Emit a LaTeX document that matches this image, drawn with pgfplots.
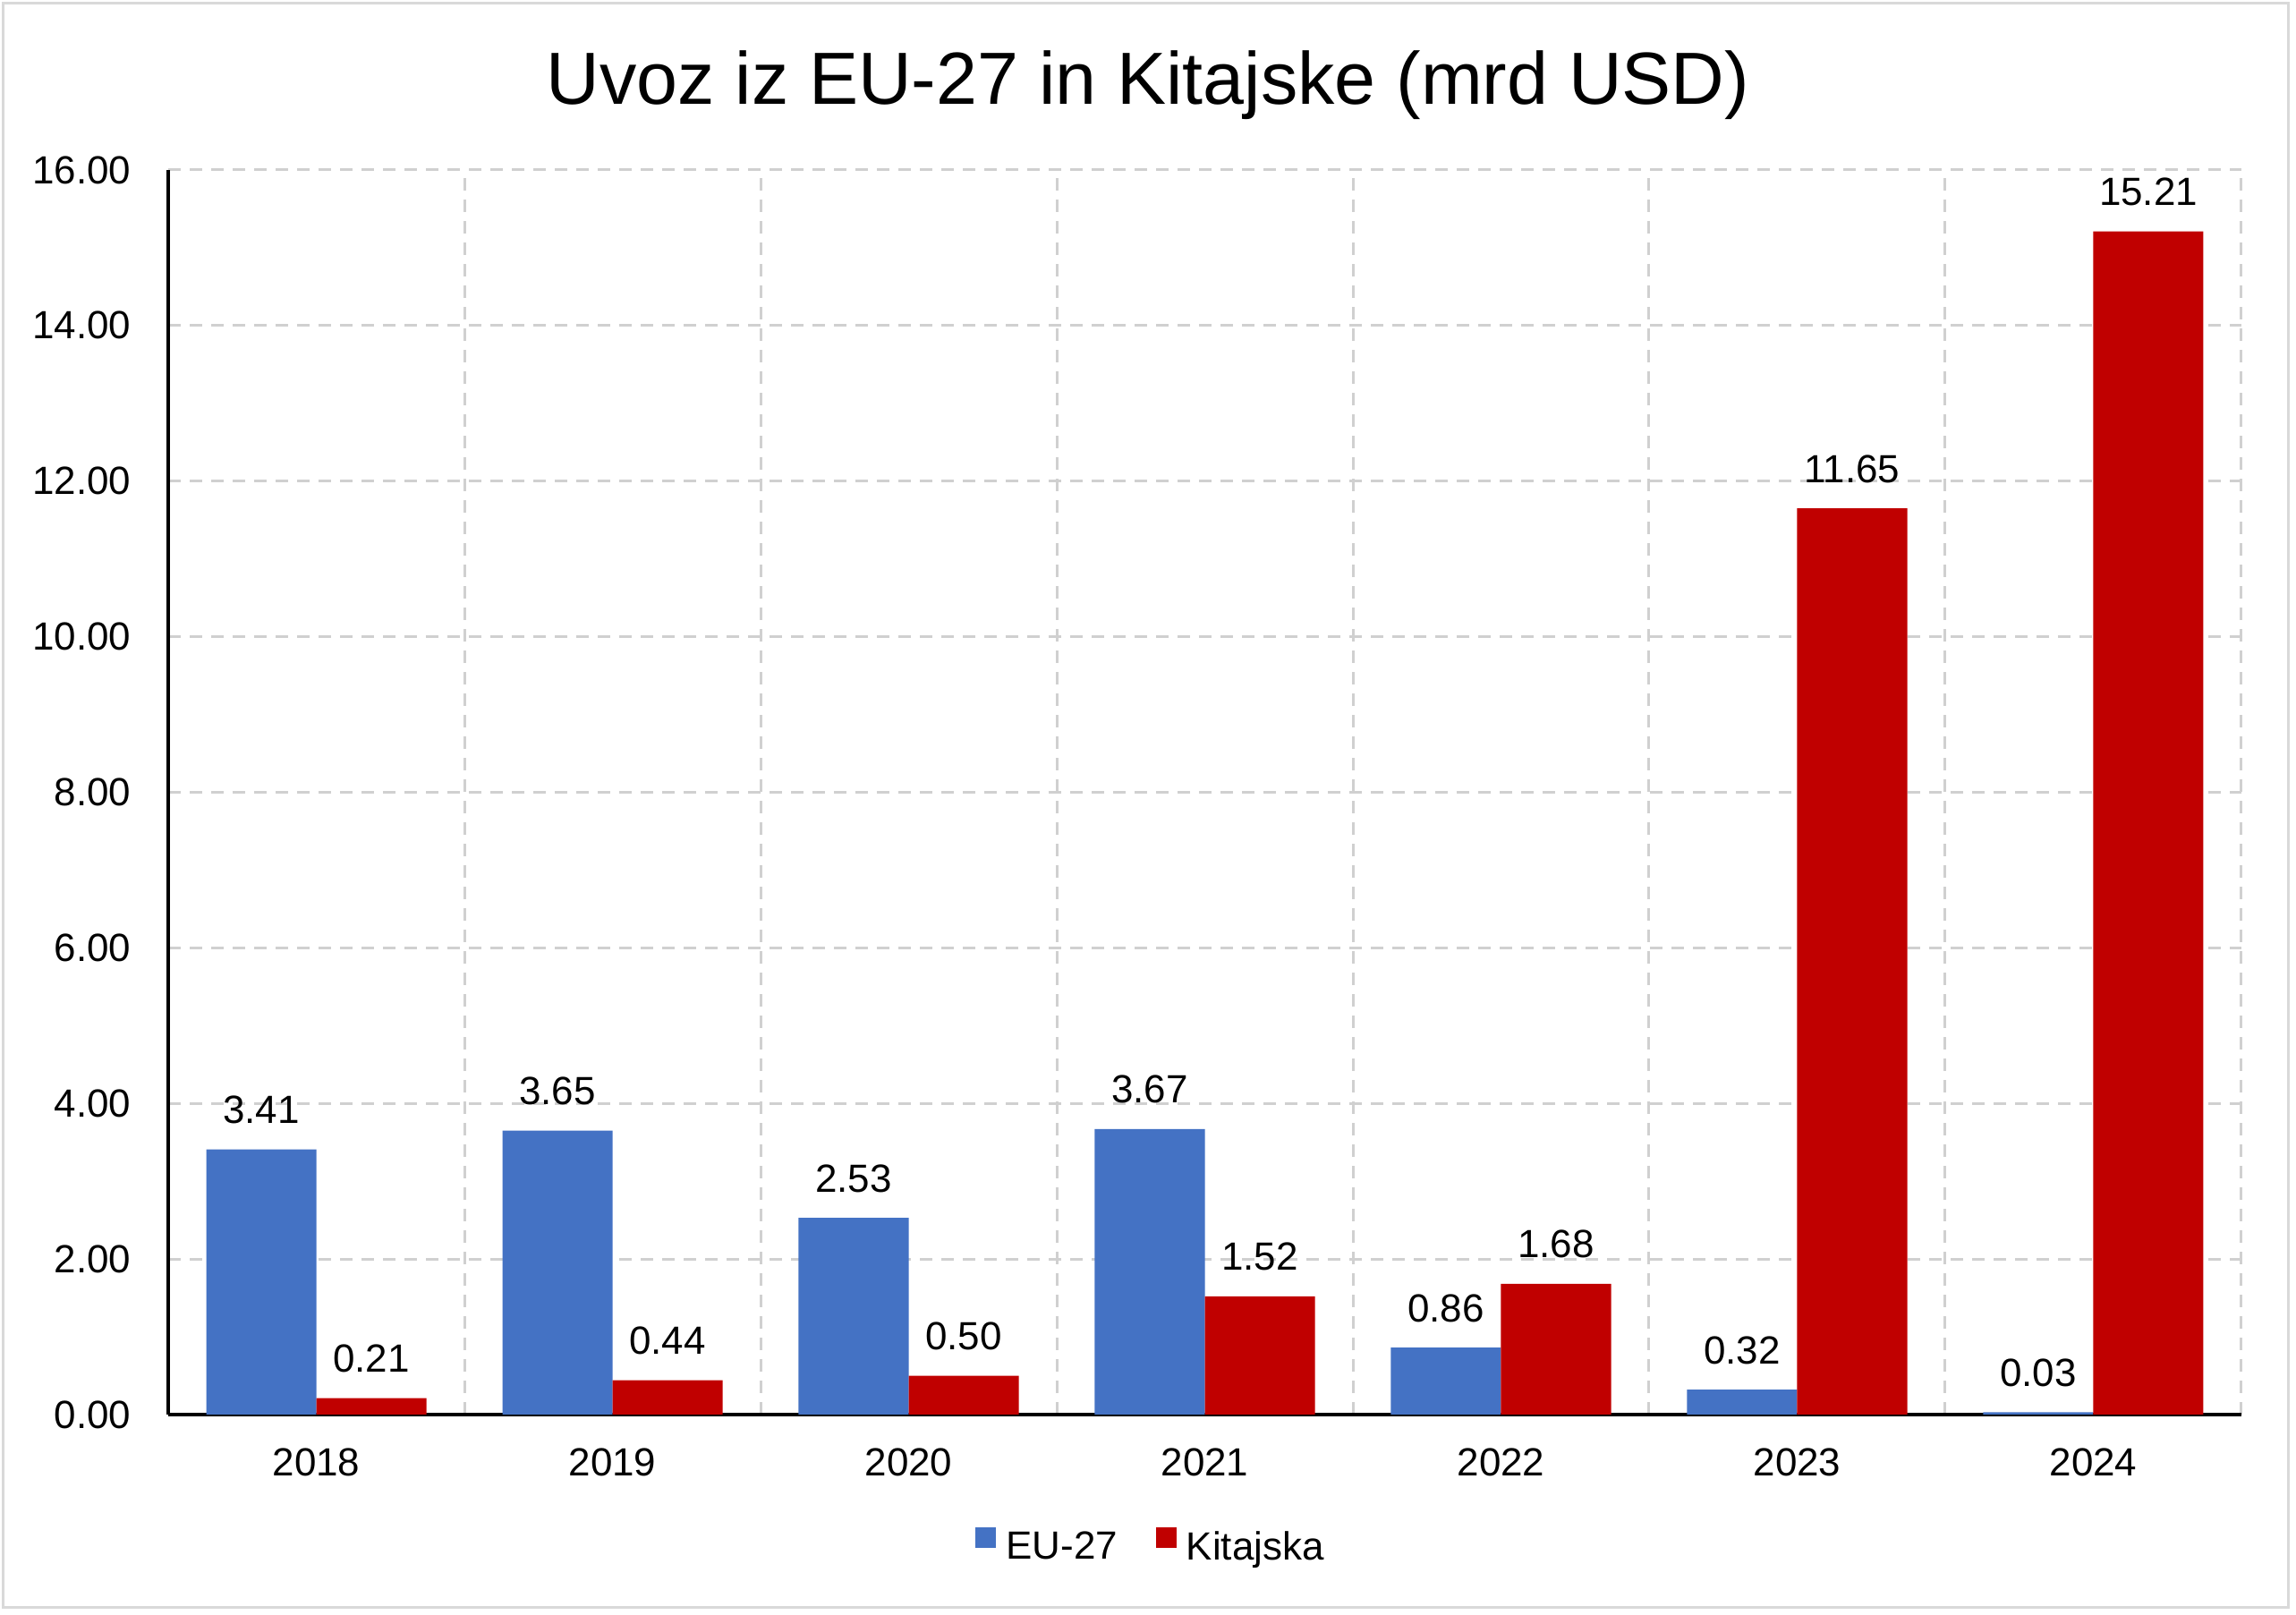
\documentclass[border=0pt]{standalone}
\usepackage{pgfplots}
\pgfplotsset{compat=1.18}
\usepackage{fontspec}
\setmainfont{Liberation Sans}
\definecolor{eublue}{HTML}{4472C4}
\definecolor{cnred}{HTML}{C00000}
\definecolor{gridgray}{HTML}{D0D0D0}
\definecolor{framegray}{HTML}{D9D9D9}
\begin{document}
\begin{tikzpicture}
\useasboundingbox (0,0) rectangle (25.66cm,18.05cm);
\draw[framegray, line width=0.03cm] (0.04cm,0.08cm) rectangle (25.57cm,18.01cm);
\node[anchor=base, inner sep=0pt, font=\fontsize{23.5}{28}\selectfont] at (12.83cm,16.88cm) {Uvoz iz EU-27 in Kitajske (mrd USD)};
\begin{axis}[
  at={(1.88cm,2.24cm)}, anchor=south west,
  scale only axis, width=23.17cm, height=13.91cm,
  ybar=0pt, bar width=1.23cm,
  xmin=-0.5, xmax=6.5, ymin=0, ymax=16,
  xtick={0,1,2,3,4,5,6},
  xticklabels={2018,2019,2020,2021,2022,2023,2024},
  minor xtick={0.5,1.5,2.5,3.5,4.5,5.5,6.5},
  ytick={0,2,4,6,8,10,12,14,16},
  major tick length=0pt, minor tick length=0pt,
  xminorgrids=true, ymajorgrids=true,
  grid style={gridgray, line width=0.03cm, dash pattern=on 0.14cm off 0.10cm},
  minor grid style={gridgray, line width=0.03cm, dash pattern=on 0.14cm off 0.10cm},
  axis x line*=bottom, axis y line*=left,
  axis line style={black, line width=0.045cm, -},
  /pgf/number format/.cd, fixed, fixed zerofill, precision=2, assume math mode=true,
  /pgfplots/.cd,
  tick label style={font=\fontsize{12.5}{15}\selectfont, black},
  yticklabel style={anchor=east, inner sep=0pt, xshift=-0.41cm},
  xticklabel style={anchor=base, inner sep=0pt, yshift=-0.69cm},
  nodes near coords,
  every node near coord/.append style={font=\fontsize{12.5}{15}\selectfont, black, anchor=base, inner sep=0pt, yshift=0.29cm},
  legend style={at={(0.4748,-0.107)}, anchor=center, draw=none, fill=none,
    legend columns=-1, font=\fontsize{12.5}{15}\selectfont,
    /tikz/every odd column/.append style={column sep=0.05cm},
    /tikz/every even column/.append style={column sep=0.37cm},
    nodes={inner sep=0.06cm}},
  legend image code/.code={\fill[#1] (0cm,0cm) rectangle (0.23cm,0.23cm);},
]
\addplot[fill=eublue, draw=none] coordinates {(0,3.41) (1,3.65) (2,2.53) (3,3.67) (4,0.86) (5,0.32) (6,0.03)};
\addplot[fill=cnred, draw=none] coordinates {(0,0.21) (1,0.44) (2,0.50) (3,1.52) (4,1.68) (5,11.65) (6,15.21)};
\legend{EU-27, Kitajska}
\end{axis}
\end{tikzpicture}
\end{document}
